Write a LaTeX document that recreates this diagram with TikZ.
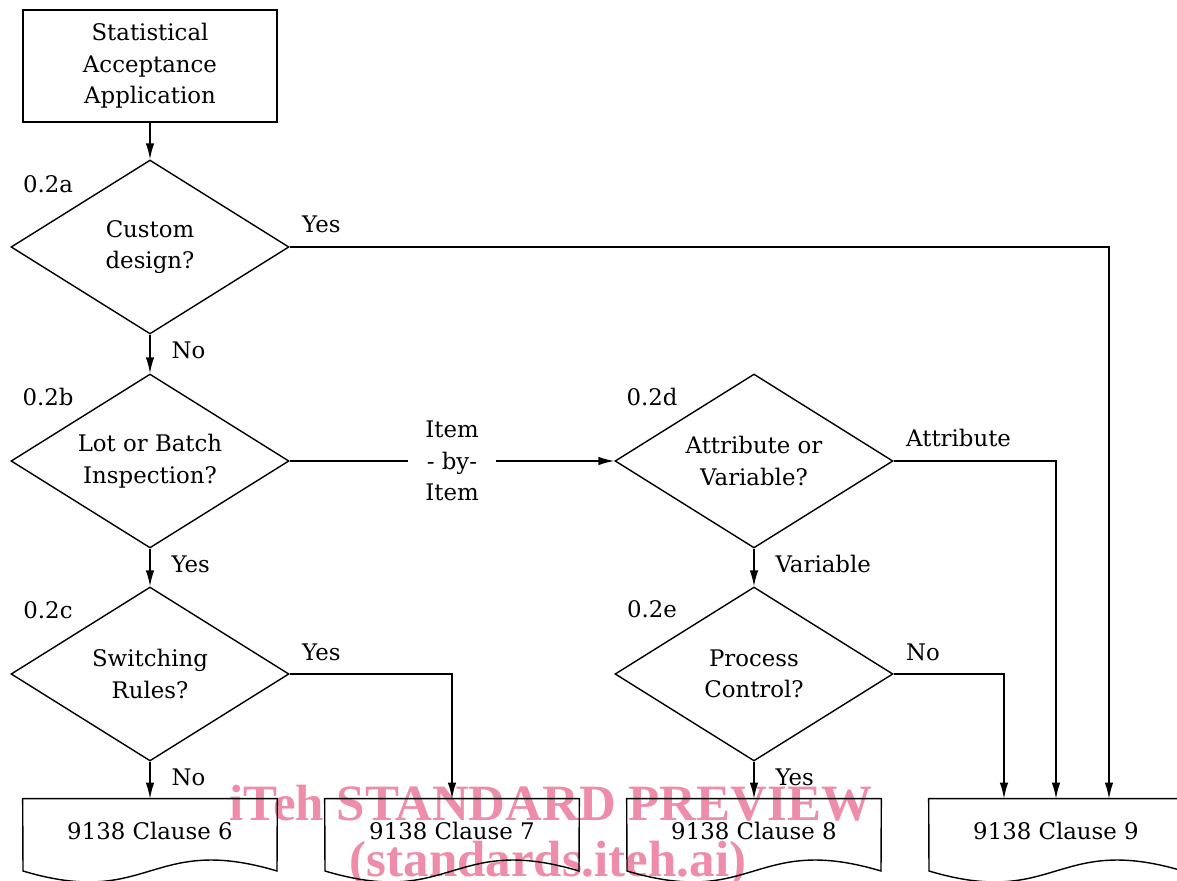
\documentclass[tikz,border=0pt]{standalone}
\usepackage{fontspec}
\setmainfont{DejaVu Serif}
\newfontfamily\markfont{Liberation Serif}
\usetikzlibrary{shapes.geometric,arrows.meta}
\definecolor{markpink}{RGB}{238,141,170}

\begin{document}
\begin{tikzpicture}
[x=0.02cm,y=-0.02cm,
  font=\fontsize{13}{18}\selectfont,
  >={Latex[length=0.32cm,width=0.17cm]},
  boxDecorate/.style={shape=rectangle,draw,line width=0.8pt,
    minimum width=5.08cm,minimum height=2.24cm,align=center},%
  askDecorate/.style={shape=diamond,draw,line width=0.8pt,inner sep=0pt,aspect=1.6,
    minimum width=5.56cm,minimum height=3.48cm,align=center},%
  docDecorate/.style={shape=rectangle,minimum width=5.08cm,minimum height=1.28cm},%
  lineDecorate/.style={->,line width=0.8pt},%
  sideLabel/.style={anchor=base west,xshift=0.12cm,yshift=0.28cm},%
  downLabel/.style={anchor=base west,xshift=0.3cm,yshift=-0.48cm},%
  markDecorate/.style={anchor=base,text=markpink,
    font=\markfont\bfseries\fontsize{29}{32}\selectfont}]
\useasboundingbox (0,0) rectangle (1177,881);
\clip (0,0) rectangle (1177,881);
%% watermark
\node (wm1) at (551,820) [markDecorate] {iTeh STANDARD PREVIEW};
\node (wm2) at (548,876) [markDecorate] {(standards.iteh.ai)};
%% start and decisions
\node (start) at (150,66) [boxDecorate] {Statistical\\Acceptance\\Application};
\foreach \nodename/\x/\y/\txt in {
  a/150/247/{Custom\\design?}, b/150/461/{Lot or Batch\\Inspection?},
  c/150/674/{Switching\\Rules?}, d/754/461/{Attribute or\\Variable?},
  e/754/674/{Process\\Control?}}
{
  \node (\nodename) at (\x,\y) [askDecorate] {\txt};
}
\foreach \nodename/\x/\y in {a/48/184, b/48/397, c/48/610, d/652/397, e/652/609}
{
  \node (num\nodename) at (\x,\y) {0.2\nodename};
}
%% documents
\foreach \num/\x in {6/150, 7/452, 8/754, 9/1056}
{
  \node (doc\num) at (\x,831) [docDecorate] {9138 Clause \num};
  \draw[line width=0.8pt] (doc\num.north west) -- (doc\num.north east) -- (\x+127,871)
    .. controls (\x,833) and (\x,909) .. (\x-127,871) -- cycle;
}
%% connectors
\draw[lineDecorate] (start.south) -- (a.north);
\draw[lineDecorate] (a.south) -- node (noA) [downLabel,pos=0] {No} (b.north);
\draw[lineDecorate] (a.east) -| node (yesA) [sideLabel,pos=0] {Yes} ([xshift=1.06cm]doc9.north);
\draw[lineDecorate] (b.south) -- node (yesB) [downLabel,pos=0] {Yes} (c.north);
\draw[lineDecorate] (b.east) -- node (item) [fill=white,inner xsep=0.34cm,align=center]
  {Item\\- by-\\Item} (d.west);
\draw[lineDecorate] (c.east) -| node (yesC) [sideLabel,pos=0] {Yes} (doc7.north);
\draw[lineDecorate] (c.south) -- node (noC) [downLabel,pos=0] {No} (doc6.north);
\draw[lineDecorate] (d.east) -| node (attD) [sideLabel,pos=0] {Attribute} (doc9.north);
\draw[lineDecorate] (d.south) -- node (varD) [downLabel,pos=0] {Variable} (e.north);
\draw[lineDecorate] (e.east) -| node (noE) [sideLabel,pos=0] {No} ([xshift=-1.04cm]doc9.north);
\draw[lineDecorate] (e.south) -- node (yesE) [downLabel,pos=0] {Yes} (doc8.north);
\end{tikzpicture}
\end{document}
